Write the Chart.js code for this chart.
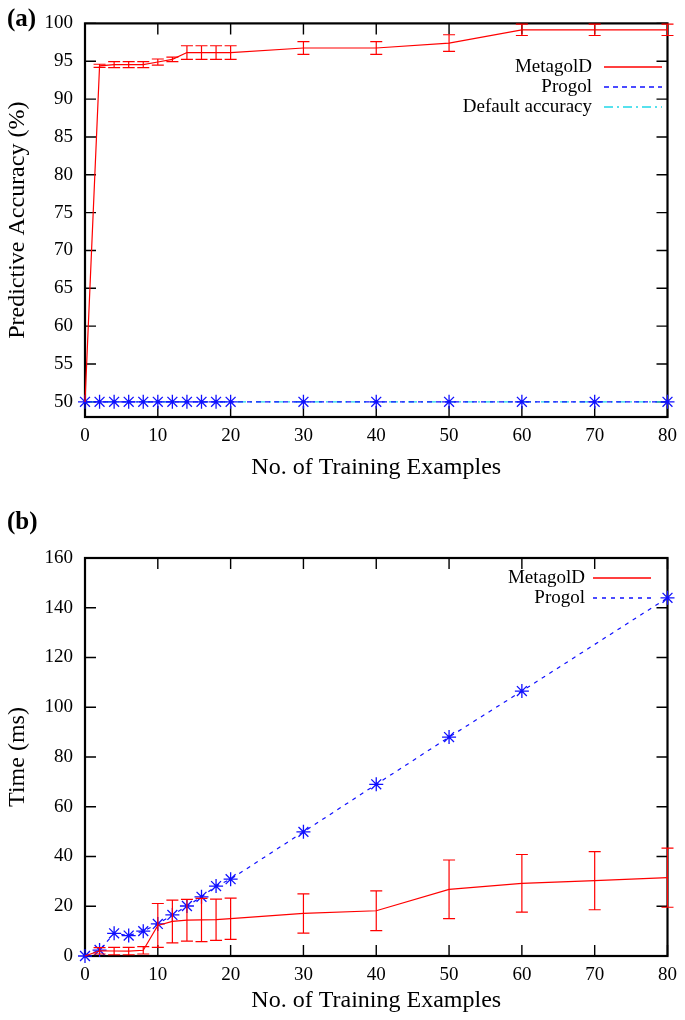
<!DOCTYPE html>
<html>
<head>
<meta charset="utf-8">
<script src="https://cdn.jsdelivr.net/npm/chart.js@4.4.1/dist/chart.umd.min.js"></script>
<style>
  body { margin: 0; background: #fff; width: 685px; height: 1020px; position: relative; overflow: hidden; }
  .panel { position: absolute; left: 0; width: 685px; }
  .tag { position: absolute; left: 7px; font: bold 25px "Liberation Serif", serif; color: #000; line-height: 28px; }
</style>
</head>
<body>
<div class="panel" style="top:0;height:500px"><canvas id="acc"></canvas></div>
<div class="panel" style="top:500px;height:520px"><canvas id="time"></canvas></div>
<div class="tag" style="top:4px">(a)</div>
<div class="tag" style="top:507px">(b)</div>
<script>
// Panel (a) and (b): MetagolD vs Progol

const trainingSizes = [0, 2, 4, 6, 8, 10, 12, 14, 16, 18, 20, 30, 40, 50, 60, 70, 80];
const xTicks = [0, 10, 20, 30, 40, 50, 60, 70, 80];

// (a) predictive accuracy (%)
const metagolAccuracy = [50, 94.4, 94.55, 94.55, 94.55, 94.9, 95.25, 96.15, 96.15, 96.15, 96.15, 96.75, 96.75, 97.4, 99.15, 99.15, 99.15];
const metagolAccuracyErr = [0, 0.2, 0.4, 0.4, 0.4, 0.4, 0.3, 0.9, 0.9, 0.9, 0.9, 0.85, 0.85, 1.1, 0.75, 0.75, 0.75];
const progolAccuracy = [50, 50, 50, 50, 50, 50, 50, 50, 50, 50, 50, 50, 50, 50, 50, 50, 50];
const defaultAccuracy = [50, 50, 50, 50, 50, 50, 50, 50, 50, 50, 50, 50, 50, 50, 50, 50, 50];
const accuracyTicks = [50, 55, 60, 65, 70, 75, 80, 85, 90, 95, 100];

// (b) time (ms)
const metagolTime = [0, 2.1, 2.0, 2.0, 2.3, 12.3, 13.9, 14.4, 14.5, 14.6, 15.0, 17.1, 18.2, 26.8, 29.2, 30.3, 31.5];
const metagolTimeErr = [0, 1.3, 1.5, 1.5, 1.5, 8.8, 8.6, 8.4, 8.7, 8.3, 8.3, 7.9, 8.0, 11.8, 11.6, 11.7, 11.9];
const progolTime = [0, 2.4, 9.1, 8.2, 10.0, 12.9, 16.5, 20.1, 23.8, 28.1, 30.9, 49.9, 69, 88, 106.5, null, 144];
const timeTicks = [0, 20, 40, 60, 80, 100, 120, 140, 160];

const serif = "'Liberation Serif', 'Times New Roman', serif";

function toPoints(ys) {
  return trainingSizes.map((x, i) => ({ x: x, y: ys[i] }));
}

// gnuplot style box with inward ticks on all four sides
const framePlugin = {
  id: "frame",
  beforeDatasetsDraw(chart) {
    const { ctx, chartArea: a, scales } = chart;
    ctx.save();
    ctx.strokeStyle = "#000";
    ctx.lineWidth = 1.4;
    ctx.beginPath();
    scales.x.ticks.forEach((t) => {
      const px = scales.x.getPixelForValue(t.value);
      ctx.moveTo(px, a.bottom);
      ctx.lineTo(px, a.bottom - 11);
      ctx.moveTo(px, a.top);
      ctx.lineTo(px, a.top + 11);
    });
    scales.y.ticks.forEach((t) => {
      const py = scales.y.getPixelForValue(t.value);
      ctx.moveTo(a.left, py);
      ctx.lineTo(a.left + 11, py);
      ctx.moveTo(a.right, py);
      ctx.lineTo(a.right - 11, py);
    });
    ctx.stroke();
    ctx.lineWidth = 2.2;
    ctx.strokeRect(a.left, a.top, a.right - a.left, a.bottom - a.top);
    ctx.restore();
  },
};

// error bars for one dataset
const errorBarPlugin = {
  id: "errorBars",
  afterDatasetsDraw(chart, args, opts) {
    const { ctx, scales } = chart;
    const ds = chart.data.datasets[opts.datasetIndex];
    ctx.save();
    ctx.strokeStyle = ds.borderColor;
    ctx.lineWidth = 1.2;
    ctx.beginPath();
    ds.data.forEach((p, i) => {
      const e = opts.errors[i];
      if (!e) return;
      const px = scales.x.getPixelForValue(p.x);
      const top = scales.y.getPixelForValue(p.y + e);
      const bot = scales.y.getPixelForValue(p.y - e);
      ctx.moveTo(px, top);
      ctx.lineTo(px, bot);
      ctx.moveTo(px - 6, top);
      ctx.lineTo(px + 6, top);
      ctx.moveTo(px - 6, bot);
      ctx.lineTo(px + 6, bot);
    });
    ctx.stroke();
    ctx.restore();
  },
};

// legend: text right-aligned, then sample line
const keyPlugin = {
  id: "key",
  afterDraw(chart, args, opts) {
    const ctx = chart.ctx;
    ctx.save();
    ctx.font = "19px " + serif;
    ctx.textAlign = "right";
    ctx.textBaseline = "middle";
    chart.data.datasets.forEach((ds, i) => {
      const y = opts.top + i * opts.spacing;
      ctx.fillStyle = "#000";
      ctx.fillText(ds.label, opts.textRight, y);
      ctx.strokeStyle = ds.borderColor;
      ctx.lineWidth = 1.3;
      ctx.setLineDash(ds.borderDash || []);
      ctx.beginPath();
      ctx.moveTo(opts.lineStart, y);
      ctx.lineTo(opts.lineEnd, y);
      ctx.stroke();
      ctx.setLineDash([]);
    });
    ctx.restore();
  },
};

function makeOptions(cfg) {
  return {
    responsive: true,
    maintainAspectRatio: false,
    animation: false,
    layout: { padding: { top: cfg.top, right: 10, left: 0, bottom: 0 } },
    plugins: {
      legend: { display: false },
      tooltip: { enabled: false },
      errorBars: cfg.errorBars,
      key: cfg.key,
    },
    scales: {
      x: {
        type: "linear",
        min: 0,
        max: 80,
        afterBuildTicks: (scale) => { scale.ticks = xTicks.map((v) => ({ value: v })); },
        afterFit: (scale) => { scale.height = cfg.xHeight; },
        grid: { display: false, drawTicks: false },
        border: { display: false },
        ticks: { color: "#000", padding: 8, maxRotation: 0, autoSkip: false, font: { family: serif, size: 19 } },
        title: {
          display: true,
          text: "No. of Training Examples",
          color: "#000",
          padding: { top: 0, bottom: cfg.xTitlePad },
          font: { family: serif, size: 24 },
        },
      },
      y: {
        min: cfg.yMin,
        max: cfg.yMax,
        afterBuildTicks: (scale) => { scale.ticks = cfg.yTicks.map((v) => ({ value: v })); },
        afterFit: (scale) => { scale.width = 85; },
        grid: { display: false, drawTicks: false },
        border: { display: false },
        ticks: { color: "#000", padding: 12, font: { family: serif, size: 19 } },
        title: {
          display: true,
          text: cfg.yTitle,
          color: "#000",
          padding: { top: 3, bottom: 0 },
          font: { family: serif, size: 24 },
        },
      },
    },
  };
}

const red = "#ff0000";
const blue = "#1010ff";
const cyan = "#20d8e8";

new Chart(document.getElementById("acc"), {
  type: "line",
  data: {
    datasets: [
      {
        label: "MetagolD",
        data: toPoints(metagolAccuracy),
        borderColor: red,
        borderWidth: 1.2,
        pointRadius: 0,
        tension: 0,
        clip: false,
      },
      {
        label: "Progol",
        data: toPoints(progolAccuracy),
        borderColor: blue,
        borderWidth: 1.2,
        borderDash: [5, 4],
        pointStyle: "star",
        pointRadius: 7,
        pointBorderWidth: 1.3,
        pointBorderColor: blue,
        clip: false,
      },
      {
        label: "Default accuracy",
        data: [{ x: 0, y: defaultAccuracy[0] }, { x: 80, y: defaultAccuracy[defaultAccuracy.length - 1] }],
        borderColor: cyan,
        borderWidth: 1.2,
        borderDash: [9, 4, 2, 4],
        pointRadius: 0,
        clip: false,
      },
    ],
  },
  options: makeOptions({
    top: 19,
    xHeight: 83,
    xTitlePad: 18,
    yMin: 48,
    yMax: 100,
    yTicks: accuracyTicks,
    yTitle: "Predictive Accuracy (%)",
    errorBars: { datasetIndex: 0, errors: metagolAccuracyErr },
    key: { top: 67, spacing: 20, textRight: 592, lineStart: 604, lineEnd: 662 },
  }),
  plugins: [framePlugin, errorBarPlugin, keyPlugin],
});

new Chart(document.getElementById("time"), {
  type: "line",
  data: {
    datasets: [
      {
        label: "MetagolD",
        data: toPoints(metagolTime),
        borderColor: red,
        borderWidth: 1.2,
        pointRadius: 0,
        tension: 0,
        clip: false,
      },
      {
        label: "Progol",
        data: toPoints(progolTime),
        borderColor: blue,
        borderWidth: 1.2,
        borderDash: [4, 5],
        spanGaps: true,
        pointStyle: "star",
        pointRadius: 7,
        pointBorderWidth: 1.3,
        pointBorderColor: blue,
        clip: false,
      },
    ],
  },
  options: makeOptions({
    top: 58,
    xHeight: 64,
    xTitlePad: 5,
    yMin: 0,
    yMax: 160,
    yTicks: timeTicks,
    yTitle: "Time (ms)",
    errorBars: { datasetIndex: 0, errors: metagolTimeErr },
    key: { top: 78, spacing: 20, textRight: 585, lineStart: 593, lineEnd: 651 },
  }),
  plugins: [framePlugin, errorBarPlugin, keyPlugin],
});
</script>
</body>
</html>
